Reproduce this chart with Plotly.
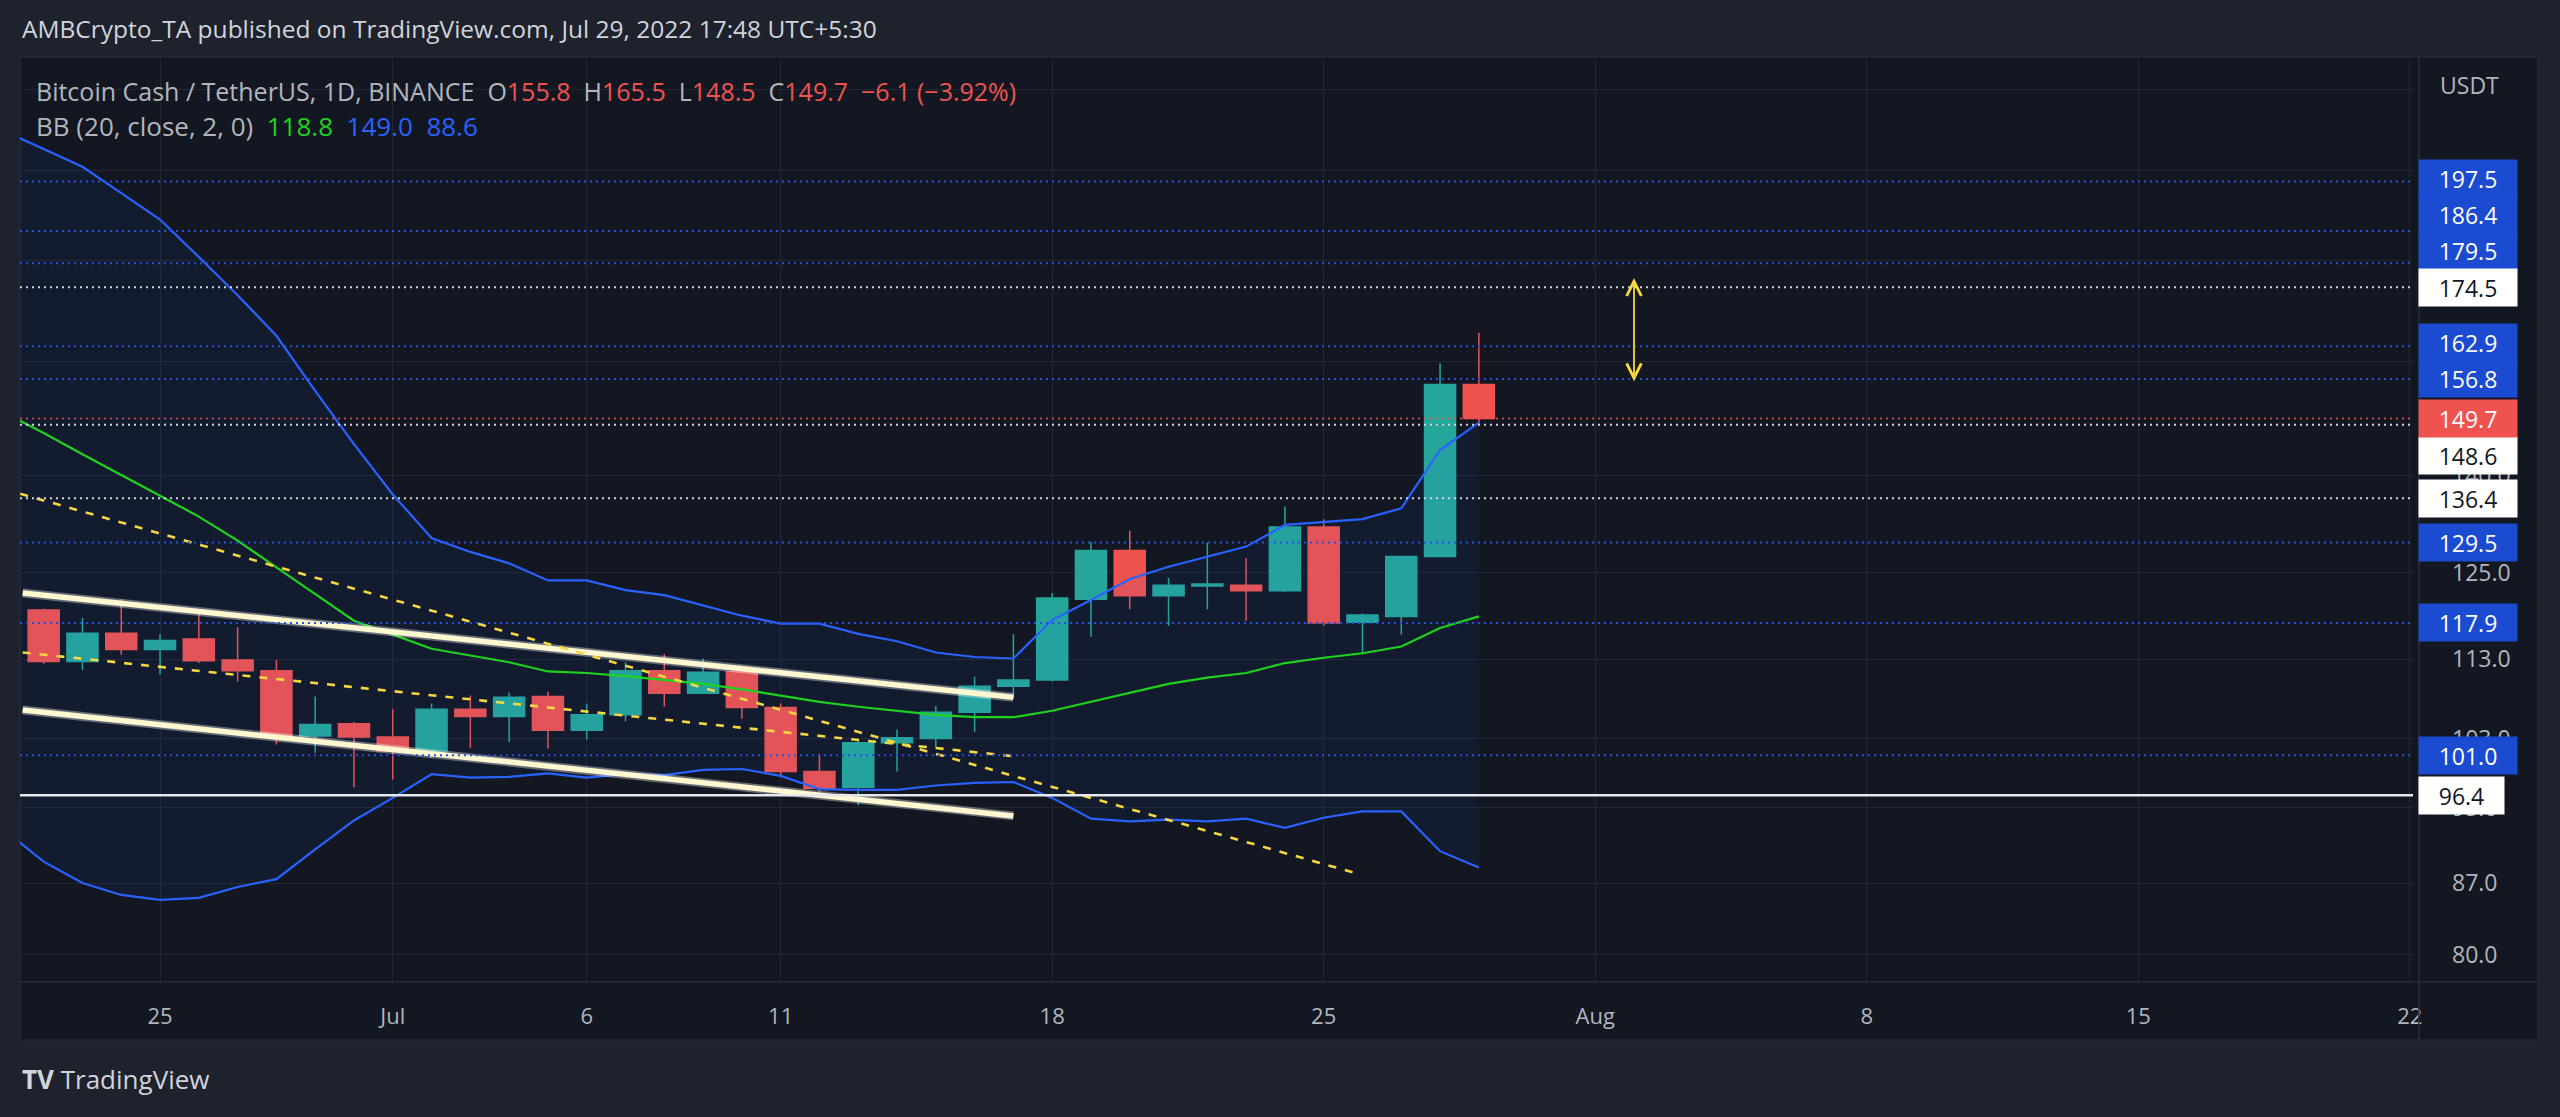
import numpy as np
import pandas as pd
import plotly.graph_objects as go

# ---------------- data ----------------
candle_dates = pd.date_range("2022-06-22", "2022-07-29", freq="D")
open_ = [119.7, 112.7, 116.5, 114.3, 115.7, 112.9, 111.5, 103.3, 104.8, 103.2,
         101.5, 106.6, 105.7, 108.2, 104.0, 105.9, 111.5, 108.6, 111.4, 106.8,
         99.1, 97.3, 102.5, 103.0, 106.2, 109.5, 110.3, 121.2, 128.3, 121.7,
         123.1, 123.2, 122.4, 131.9, 118.0, 118.8, 127.4, 155.8]
high_ = [119.9, 118.6, 121.2, 116.4, 119.6, 117.3, 112.9, 108.2, 105.0, 106.6,
         107.3, 108.3, 108.7, 108.8, 107.3, 112.6, 113.7, 113.1, 111.7, 107.3,
         101.2, 102.7, 104.1, 107.0, 110.7, 116.4, 122.1, 129.6, 131.3, 124.3,
         129.5, 127.2, 135.1, 133.1, 119.2, 127.5, 159.7, 165.5]
low_ = [112.4, 111.6, 113.6, 111.0, 112.5, 110.1, 102.3, 101.3, 97.3, 98.2,
        100.7, 101.9, 102.6, 101.8, 102.9, 105.1, 106.9, 108.5, 105.4, 98.6,
        96.8, 95.3, 99.1, 101.9, 103.8, 108.0, 110.1, 116.0, 119.8, 117.5,
        119.8, 118.2, 122.2, 117.5, 113.8, 116.3, 127.3, 148.5]
close_ = [112.7, 116.5, 114.3, 115.5, 112.8, 111.5, 103.3, 104.7, 103.2, 101.5,
          106.6, 105.7, 108.1, 104.0, 105.9, 111.5, 108.6, 111.3, 106.8, 99.1,
          97.2, 102.5, 103.1, 106.2, 109.5, 110.3, 121.4, 128.3, 121.7, 123.2,
          123.4, 122.4, 131.9, 117.9, 119.0, 127.4, 155.8, 149.7]

bb_dates = pd.date_range("2022-06-21", "2022-07-29", freq="D")
bb_upper = [209.4, 205.2, 200.9, 194.8, 188.9, 180.8, 172.9, 164.9, 154.6, 145.3,
            137.0, 130.2, 128.1, 126.4, 123.9, 123.9, 122.5, 121.8, 120.3, 118.9,
            117.8, 117.8, 116.4, 115.4, 113.9, 113.3, 113.1, 118.3, 121.1, 124.1,
            125.9, 127.4, 128.9, 132.2, 132.6, 133.1, 134.8, 144.3, 149.0]
bb_basis = [150.7, 147.2, 143.6, 140.2, 136.8, 133.5, 129.8, 125.8, 121.9, 118.2,
            116.3, 114.4, 113.5, 112.6, 111.4, 111.2, 110.8, 110.3, 109.8, 109.1,
            108.3, 107.5, 106.9, 106.4, 105.9, 105.6, 105.6, 106.4, 107.5, 108.6,
            109.8, 110.6, 111.2, 112.5, 113.2, 113.8, 114.7, 117.2, 118.8]
bb_lower = [92.5, 89.2, 87.0, 85.8, 85.3, 85.5, 86.6, 87.4, 90.5, 93.6,
            96.1, 98.8, 98.4, 98.5, 98.9, 98.4, 98.8, 98.7, 99.3, 99.4,
            98.6, 97.1, 97.0, 97.0, 97.5, 97.8, 97.9, 96.1, 93.8, 93.5,
            93.7, 93.5, 93.8, 92.8, 93.9, 94.6, 94.6, 90.3, 88.6]

# drawn trend lines (dates, prices)
channel_top_x = ["2022-06-21 11:00", "2022-07-17 00:00"]
channel_top_y = [122.1, 108.1]
channel_bot_x = ["2022-06-21 11:00", "2022-07-17 00:00"]
channel_bot_y = [106.5, 94.1]
dash_steep_x = ["2022-06-21 09:30", "2022-07-25 18:00"]
dash_steep_y = [137.1, 88.1]
dash_flat_x = ["2022-06-21 11:00", "2022-07-17 00:00"]
dash_flat_y = [113.9, 100.9]
arrow_x = "2022-08-02"
arrow_top = 176.4
arrow_bottom = 156.1

# horizontal levels
levels_blue = [197.5, 186.4, 179.5, 162.9, 156.8, 129.5, 117.9, 101.0]
levels_white_dotted = [174.5, 148.6, 136.4]
level_white_solid = 96.4
last_price = close_[-1]

# axes (labels fully covered by price tags in the reference are left blank)
y_grid_vals = [80, 87, 95, 103, 113, 125, 140, 160, 180, 200, 220]
y_grid_text = ["80.0", "87.0", "95.0", "103.0", "113.0", "125.0", "140.0",
               "", "", "", ""]
y_view = [77.5, 228.4]
x_ticks = ["2022-06-25", "2022-07-01", "2022-07-06", "2022-07-11", "2022-07-18",
           "2022-07-25", "2022-08-01", "2022-08-08", "2022-08-15", "2022-08-22"]
x_tick_text = ["25", "Jul", "6", "11", "18", "25", "Aug", "8", "15", "22"]
x_view = ["2022-06-21 09:21", "2022-08-22 02:00"]

# ---------------- style ----------------
BG_OUT = "#1e222d"
BG_IN = "#131722"
GRID = "#232734"
TXT = "#b2b5be"
UP = "#26a69a"
DOWN = "#ef5350"
BLUE = "#2962ff"
GREEN = "#1ed31e"
LBL_BLUE = "#1a4bd0"
YEL = "#f5d742"
CREAM = "#fff7cf"
FONT = "Open Sans"

fig = go.Figure()

# Bollinger band fill + lines
fig.add_trace(go.Scatter(x=bb_dates, y=bb_lower, mode="lines",
                         line=dict(color=BLUE, width=2.2), hoverinfo="skip"))
fig.add_trace(go.Scatter(x=bb_dates, y=bb_upper, mode="lines", fill="tonexty",
                         fillcolor="rgba(41,98,255,0.06)",
                         line=dict(color=BLUE, width=2.2), hoverinfo="skip"))
fig.add_trace(go.Scatter(x=bb_dates, y=bb_basis, mode="lines",
                         line=dict(color=GREEN, width=2.2), hoverinfo="skip"))

# candles
fig.add_trace(go.Candlestick(
    x=candle_dates, open=open_, high=high_, low=low_, close=close_,
    increasing=dict(line=dict(color=UP, width=1.5), fillcolor=UP),
    decreasing=dict(line=dict(color=DOWN, width=1.5), fillcolor=DOWN),
    hoverinfo="skip"))

# drawings
for xs, ys in [(channel_top_x, channel_top_y), (channel_bot_x, channel_bot_y)]:
    fig.add_trace(go.Scatter(x=xs, y=ys, mode="lines",
                             line=dict(color="rgba(255,255,255,0.35)", width=9),
                             hoverinfo="skip"))
    fig.add_trace(go.Scatter(x=xs, y=ys, mode="lines",
                             line=dict(color=CREAM, width=5.5), hoverinfo="skip"))
for xs, ys in [(dash_steep_x, dash_steep_y), (dash_flat_x, dash_flat_y)]:
    fig.add_trace(go.Scatter(x=xs, y=ys, mode="lines",
                             line=dict(color=YEL, width=2.6, dash="8px,9px"),
                             hoverinfo="skip"))

shapes = []
# chart panel background (incl. axis areas)
shapes.append(dict(type="rect", xref="paper", yref="paper", x0=0, x1=1.0522,
                   y0=-0.0627, y1=1.0, fillcolor=BG_IN,
                   line=dict(color="#2a2e39", width=1), layer="below"))
# axis separators
shapes.append(dict(type="line", xref="paper", yref="paper", x0=1.0025, x1=1.0025,
                   y0=-0.0627, y1=1.0, line=dict(color="#2a2e39", width=1.5)))
shapes.append(dict(type="line", xref="paper", yref="paper", x0=0, x1=1.0522,
                   y0=0, y1=0, line=dict(color="#2a2e39", width=1.5)))

for v in levels_blue:
    shapes.append(dict(type="line", xref="paper", yref="y", x0=0, x1=1,
                       y0=v, y1=v,
                       line=dict(color="#2352e0", width=2, dash="2px,4px"),
                       layer="above"))
for v in levels_white_dotted:
    shapes.append(dict(type="line", xref="paper", yref="y", x0=0, x1=1,
                       y0=v, y1=v,
                       line=dict(color="#d1d4dc", width=2, dash="2px,4px"),
                       layer="above"))
shapes.append(dict(type="line", xref="paper", yref="y", x0=0, x1=1,
                   y0=last_price, y1=last_price,
                   line=dict(color=DOWN, width=1.6, dash="2px,4px"), layer="above"))
shapes.append(dict(type="line", xref="paper", yref="y", x0=0, x1=1,
                   y0=level_white_solid, y1=level_white_solid,
                   line=dict(color="#e6e8ee", width=2.4), layer="above"))

annotations = []
# double-headed arrow
annotations.append(dict(x=arrow_x, y=np.log10(arrow_top), ax=arrow_x,
                        ay=np.log10(arrow_bottom), xref="x", yref="y",
                        axref="x", ayref="y", text="", showarrow=True,
                        arrowhead=5, startarrowhead=5, arrowside="end+start",
                        arrowsize=1.6, startarrowsize=1.6, arrowwidth=1.8,
                        arrowcolor=YEL))

# price labels on the right axis
label_x = 1.00209
shift = {197.5: 3, 186.4: 16, 179.5: 12.5, 162.9: 4, 148.6: -30.5}


def price_label(v, bg, fg, w=96):
    annotations.append(dict(
        x=label_x, y=np.log10(v), xref="paper", yref="y", xanchor="left",
        yanchor="middle", yshift=shift.get(v, 0), text=f"{v:.1f}",
        showarrow=False, bgcolor=bg, font=dict(family=FONT, size=23, color=fg),
        width=w, height=35, borderpad=1, align="center", valign="middle"))


for v in levels_blue:
    price_label(v, LBL_BLUE, "#ffffff")
for v in levels_white_dotted:
    price_label(v, "#ffffff", "#131722")
price_label(level_white_solid, "#ffffff", "#131722", w=83)
price_label(last_price, DOWN, "#ffffff")

# currency
annotations.append(dict(x=1.0238, y=0.9697, xref="paper", yref="paper",
                        xanchor="center", yanchor="middle",
                        text="USDT", showarrow=False,
                        font=dict(family=FONT, size=23, color=TXT)))

# title
annotations.append(dict(x=0, y=1.0303, xref="paper", yref="paper", xanchor="left",
                        yanchor="middle",
                        text="AMBCrypto_TA published on TradingView.com, Jul 29, 2022 17:48 UTC+5:30",
                        showarrow=False,
                        font=dict(family=FONT, size=24.5, color="#d1d4dc")))

# legend lines
chg = close_[-1] - close_[-2]
pct = chg / close_[-2] * 100
NB = "\u00a0"


def red(s):
    return f"<span style='color:{DOWN}'>{s}</span>"


line1 = (f"Bitcoin Cash / TetherUS, 1D, BINANCE{NB}{NB}O{red(f'{open_[-1]:.1f}')}"
         f"{NB}{NB}H{red(f'{high_[-1]:.1f}')}{NB}{NB}L{red(f'{low_[-1]:.1f}')}"
         f"{NB}{NB}C{red(f'{close_[-1]:.1f}')}{NB}{NB}"
         f"{red(f'{chg:.1f} ({pct:.2f}%)'.replace('-', '−'))}")
line2 = (f"BB (20, close, 2, 0){NB}{NB}<span style='color:{GREEN}'>{bb_basis[-1]:.1f}</span>"
         f"{NB}{NB}<span style='color:{BLUE}'>{bb_upper[-1]:.1f}</span>"
         f"{NB}{NB}<span style='color:{BLUE}'>{bb_lower[-1]:.1f}</span>")
annotations.append(dict(x=0.00585, y=0.9632, xref="paper", yref="paper",
                        xanchor="left", yanchor="middle", text=line1,
                        showarrow=False, font=dict(family=FONT, size=25, color=TXT)))
annotations.append(dict(x=0.00585, y=0.9254, xref="paper", yref="paper",
                        xanchor="left", yanchor="middle", text=line2,
                        showarrow=False, font=dict(family=FONT, size=26, color=TXT)))

# TradingView logo
annotations.append(dict(x=0, y=-0.1049, xref="paper", yref="paper",
                        xanchor="left", yanchor="middle",
                        text="<b>TV</b>" + NB + "TradingView", showarrow=False,
                        font=dict(family=FONT, size=26, color="#d1d4dc")))

fig.update_layout(
    width=2560, height=1117,
    margin=dict(l=20, r=147, t=57, b=135),
    paper_bgcolor=BG_OUT, plot_bgcolor=BG_IN,
    showlegend=False, boxgap=0.2, boxgroupgap=0,
    font=dict(family=FONT, color=TXT),
    shapes=shapes, annotations=annotations,
    xaxis=dict(type="date", range=x_view, tickvals=x_ticks, ticktext=x_tick_text,
               showgrid=True, gridcolor=GRID, gridwidth=1, zeroline=False,
               showline=False, ticks="", ticklabelstandoff=19,
               tickfont=dict(family=FONT, size=22, color=TXT),
               rangeslider=dict(visible=False)),
    yaxis=dict(type="log", side="right", range=[np.log10(y_view[0]), np.log10(y_view[1])],
               tickvals=y_grid_vals, ticktext=y_grid_text, showgrid=True,
               gridcolor=GRID, gridwidth=1, zeroline=False, showline=False,
               ticks="", ticklabelstandoff=38,
               tickfont=dict(family=FONT, size=23, color=TXT)),
)

fig.write_html("out.html", config={"displayModeBar": False},
               post_script="document.body.style.margin='0';document.body.style.overflow='hidden';")
